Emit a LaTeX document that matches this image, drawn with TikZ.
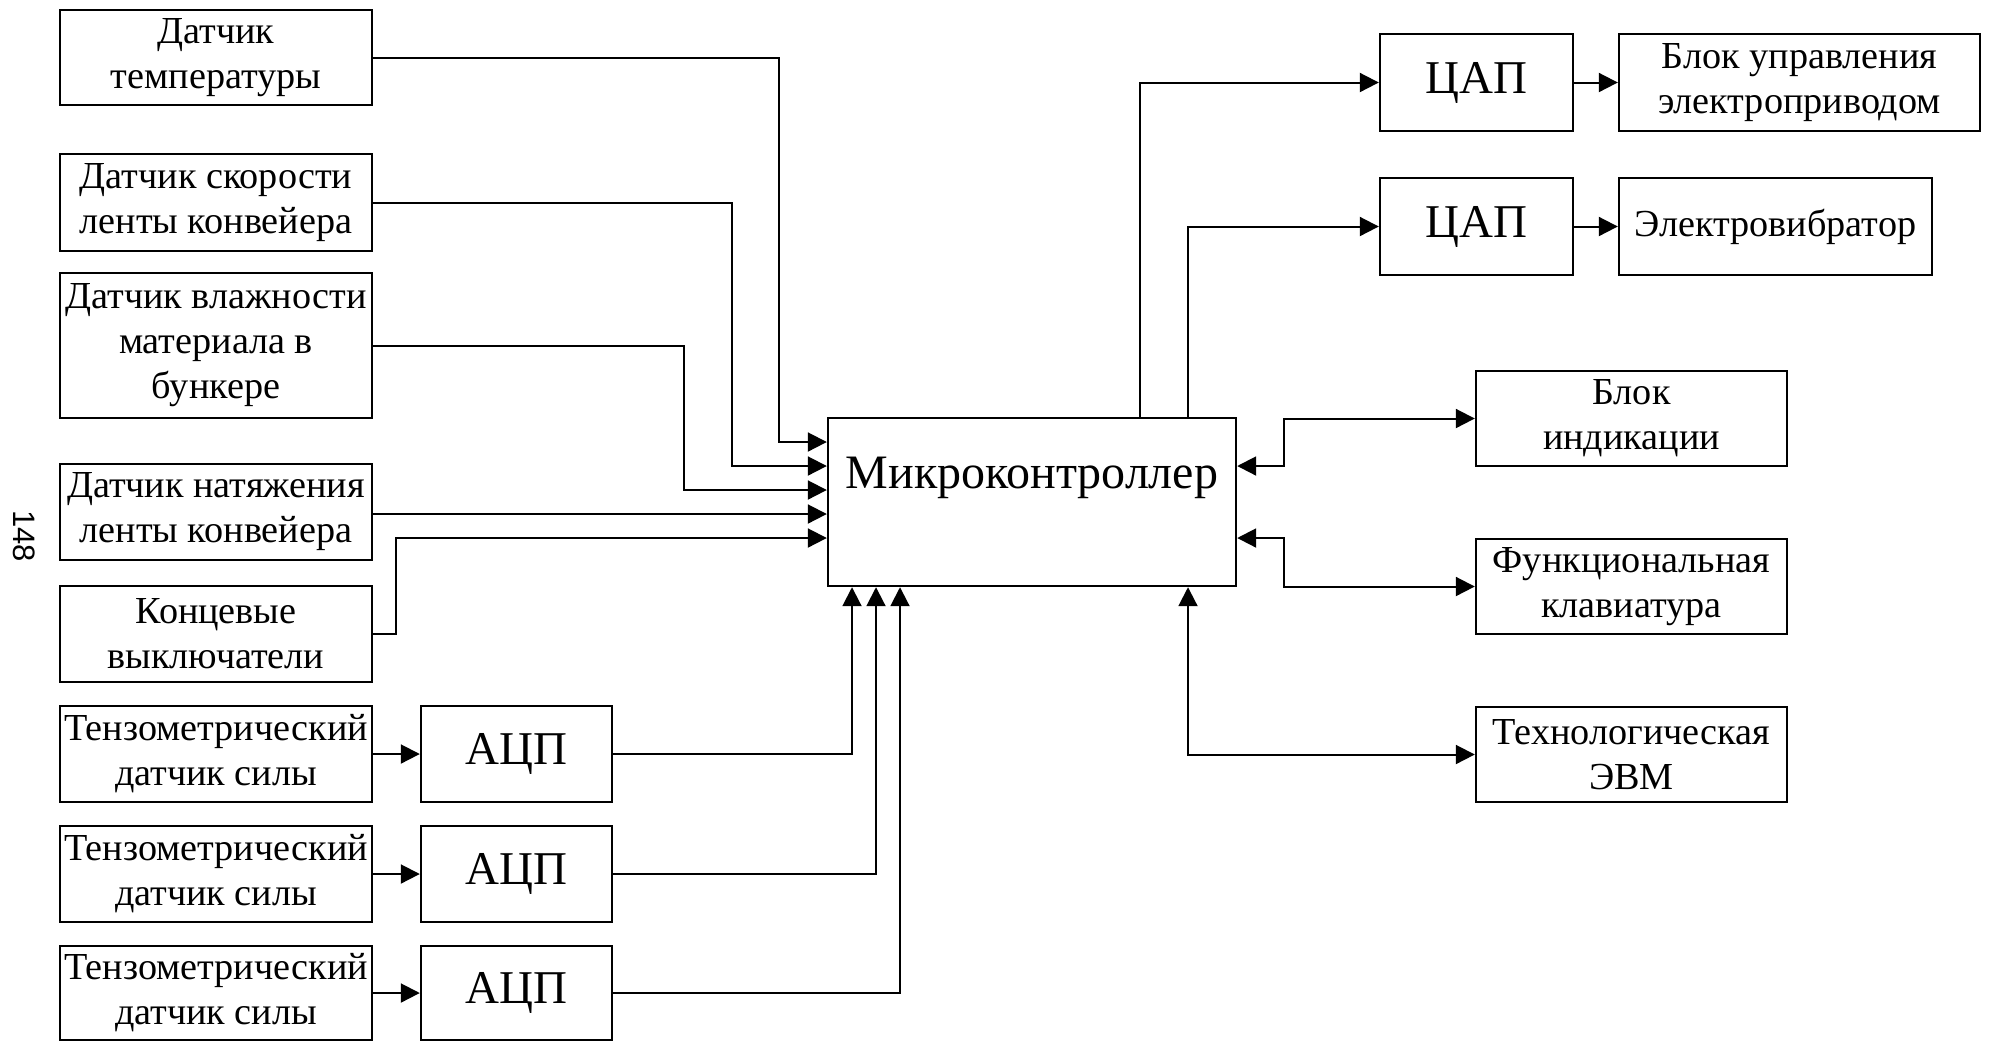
\documentclass[tikz,border=0pt]{standalone}
\usepackage{fontspec}
\setmainfont{Liberation Serif}
\newfontfamily\pagefont{Liberation Sans}
\usetikzlibrary{arrows.meta,calc}
\tikzset{
  blk/.style={draw, line width=1.2pt, rectangle, inner sep=0pt, align=center,
    font=\fontsize{19.1}{22.5}\selectfont},
  bigblk/.style={draw, line width=1.2pt, rectangle, inner sep=0pt, align=center,
    font=\fontsize{23.5}{27}\selectfont},
  conn/.style={line width=1pt, -{Triangle[length=9.5pt,width=9.5pt]}},
  conn2/.style={line width=1pt, {Triangle[length=9.5pt,width=9.5pt]}-{Triangle[length=9.5pt,width=9.5pt]}},
  lw/.style={minimum width=156pt},
}
\begin{document}
\begin{tikzpicture}[x=0.5pt,y=-0.5pt]
\useasboundingbox (0,0) rectangle (2016,1041);
% left sensors
\node[blk,lw,minimum height=47.5pt] (b1) at (216,57.5) {Датчик\\температуры};
\node[blk,lw,minimum height=48.5pt] (b2) at (216,202.5) {Датчик скорости\\ленты конвейера};
\node[blk,lw,minimum height=72.5pt] (b3) at (216,345.5) {Датчик влажности\\материала в\\бункере};
\node[blk,lw,minimum height=48pt] (b4) at (216,512) {Датчик натяжения\\ленты конвейера};
\node[blk,lw,minimum height=48pt] (b5) at (216,634) {Концевые\\выключатели};
\node[blk,lw,minimum height=48pt] (t1) at (216,754) {Тензометрический\\датчик силы};
\node[blk,lw,minimum height=48pt] (t2) at (216,874) {Тензометрический\\датчик силы};
\node[blk,lw,minimum height=47pt] (t3) at (216,993) {Тензометрический\\датчик силы};
% ADC
\node[bigblk,minimum width=95.5pt,minimum height=48pt] (a1) at (516.5,754) {АЦП};
\node[bigblk,minimum width=95.5pt,minimum height=48pt] (a2) at (516.5,874) {АЦП};
\node[bigblk,minimum width=95.5pt,minimum height=47pt] (a3) at (516.5,993) {АЦП};
% microcontroller
\node[draw,line width=1.2pt,rectangle,inner sep=0pt,minimum width=204pt,minimum height=84pt] (mc) at (1032,502) {};
\node[font=\fontsize{24}{28}\selectfont,inner sep=0pt] (mct) at (1032,478) {Микроконтроллер};
% DAC and outputs
\node[bigblk,minimum width=96.5pt,minimum height=48.5pt] (c1) at (1476.5,82.5) {ЦАП};
\node[bigblk,minimum width=96.5pt,minimum height=48.5pt] (c2) at (1476.5,226.5) {ЦАП};
\node[blk,minimum width=180.5pt,minimum height=48.5pt] (bu) at (1799.5,82.5) {Блок управления\\электроприводом};
\node[blk,minimum width=156.5pt,minimum height=48.5pt] (ev) at (1775.5,226.5) {Электровибратор};
% right peripherals
\node[blk,minimum width=155.5pt,minimum height=47.5pt] (bi) at (1631.5,418.5) {Блок\\индикации};
\node[blk,minimum width=155.5pt,minimum height=47.5pt] (fk) at (1631.5,586.5) {Функциональная\\клавиатура};
\node[blk,minimum width=155.5pt,minimum height=47.5pt] (evm) at (1631.5,754.5) {Технологическая\\ЭВМ};
% page number
\node[font=\pagefont\fontsize{15.5}{15.5}\selectfont,rotate=-90,inner sep=0pt] (pg) at (24,536) {148};
% connectors into MC
\draw[conn] (b1.east) -| (779,442) -- (mc.west |- 0,442);
\draw[conn] (b2.east) -| (732,466) -- (mc.west |- 0,466);
\draw[conn] (b3.east) -| (684,490) -- (mc.west |- 0,490);
\draw[conn] (b4.east |- 0,514) -- (mc.west |- 0,514);
\draw[conn] (b5.east) -| (396,538) -- (mc.west |- 0,538);
\draw[conn] (t1.east) -- (a1.west);
\draw[conn] (t2.east) -- (a2.west);
\draw[conn] (t3.east) -- (a3.west);
\draw[conn] (a1.east) -| (mc.south -| 852,0);
\draw[conn] (a2.east) -| (mc.south -| 876,0);
\draw[conn] (a3.east) -| (mc.south -| 900,0);
% outputs
\draw[conn] (mc.north -| 1140,0) |- (c1.west);
\draw[conn] (mc.north -| 1188,0) |- (c2.west);
\draw[conn] (c1.east) -- (bu.west);
\draw[conn] (c2.east) -- (ev.west);
\draw[conn2] (mc.east |- 0,466) -| (1284,418.5) -- (bi.west);
\draw[conn2] (mc.east |- 0,538) -| (1284,586.5) -- (fk.west);
\draw[conn2] (mc.south -| 1188,0) |- (evm.west);
\end{tikzpicture}
\end{document}
